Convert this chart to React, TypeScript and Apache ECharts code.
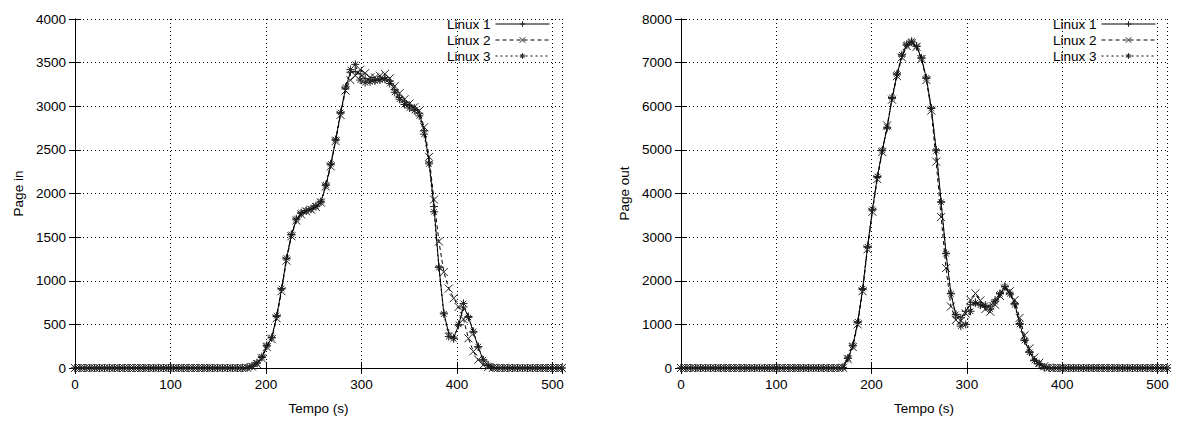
import React, { useEffect, useRef } from "react";
import * as echarts from "echarts";

// sampling step of the measurements (seconds); 100 samples from 0 to ~510 s
const SAMPLE_STEP = 5.15;
const SAMPLE_COUNT = 100;

const seriesNames = ["Linux 1", "Linux 2", "Linux 3"];

const z = (n: number) => Array(n).fill(0);

// Page in (left chart)
const pageIn1 = [
  ...z(35),
  5, 20, 55, 120, 250, 345, 590, 905, 1250, 1525,
  1700, 1770, 1800, 1820, 1850, 1900, 2090, 2330, 2610, 2920,
  3200, 3390, 3400, 3370, 3320, 3300, 3300, 3310, 3330, 3290,
  3190, 3100, 3050, 3010, 2980, 2920, 2720, 2360, 1850, 1160,
  630, 400, 345, 490, 700, 590, 410, 240, 90, 35, 8,
  ...z(14),
];
const pageIn2 = [
  ...z(35),
  3, 15, 45, 110, 240, 330, 570, 880, 1230, 1510,
  1690, 1760, 1795, 1815, 1845, 1895, 2080, 2310, 2600, 2900,
  3180, 3300, 3350, 3420, 3380, 3330, 3330, 3350, 3370, 3320,
  3230, 3150, 3080, 3030, 2990, 2950, 2760, 2420, 1930, 1450,
  1100, 910, 800, 700, 560, 340, 190, 95, 35, 10, 2,
  ...z(14),
];
const pageIn3 = [
  ...z(35),
  6, 25, 60, 130, 260, 350, 600, 910, 1260, 1530,
  1710, 1780, 1805, 1825, 1860, 1910, 2100, 2340, 2620, 2930,
  3220, 3420, 3480, 3300, 3270, 3280, 3290, 3300, 3310, 3260,
  3160, 3080, 3020, 2980, 2950, 2890, 2680, 2340, 1790, 1150,
  620, 360, 335, 500, 740, 580, 420, 245, 95, 30, 5,
  ...z(14),
];

// Page out (right chart)
const pageOut1 = [
  ...z(33),
  10, 220, 505, 1040, 1800, 2770, 3620, 4370, 4980, 5500,
  6180, 6720, 7150, 7400, 7470, 7370, 7100, 6640, 5960, 5000,
  3810, 2630, 1710, 1220, 1150, 1300, 1450, 1500, 1450, 1400,
  1420, 1560, 1710, 1860, 1720, 1480, 1020, 640, 370, 180,
  100, 20, 3,
  ...z(24),
];
const pageOut2 = [
  ...z(33),
  5, 200, 480, 1000, 1760, 2720, 3580, 4330, 4950, 5560,
  6150, 6690, 7120, 7380, 7450, 7360, 7080, 6600, 5900, 4730,
  3460, 2290, 1410, 1100, 1080, 1250, 1560, 1710, 1550, 1350,
  1290, 1450, 1650, 1820, 1760, 1560, 1150, 750, 450, 240,
  120, 40, 8,
  ...z(24),
];
const pageOut3 = [
  ...z(33),
  15, 230, 520, 1060, 1820, 2780, 3640, 4390, 4990, 5520,
  6200, 6740, 7180, 7420, 7490, 7380, 7110, 6650, 5950, 4980,
  3800, 2620, 1700, 1230, 960, 1000, 1300, 1500, 1440, 1440,
  1350, 1520, 1700, 1870, 1700, 1450, 1000, 630, 360, 170,
  90, 15, 2,
  ...z(24),
];

const times = Array.from({ length: SAMPLE_COUNT }, (_, i) => i * SAMPLE_STEP);

const FONT = "Liberation Sans";
const FS = 13.5;
const SYMBOLS = [
  "path://M0,5L10,5M5,0L5,10",
  "path://M0,0L10,10M10,0L0,10",
  "path://M0,5L10,5M5,0L5,10M1.5,1.5L8.5,8.5M8.5,1.5L1.5,8.5",
];
const DASHES: any[] = ["solid", [4, 3], [2, 3]];

const gridLine = { show: true, lineStyle: { color: "#000", type: [1, 3], width: 1 } };
const axisLine = { show: true, lineStyle: { color: "#000", width: 1 } };
const tick = { show: true, inside: true, length: 6, lineStyle: { color: "#000", width: 1 } };
const label = { color: "#000", fontSize: FS, fontFamily: FONT };
const plain = (v: number) => String(v);

function makeAxes(gridIndex: number, yMax: number, yInterval: number, yName: string) {
  const xAxes = [
    {
      type: "value", gridIndex, min: 0, max: 510, interval: 100, position: "bottom",
      axisLine, axisTick: tick, splitLine: gridLine,
      axisLabel: { ...label, margin: 9, showMaxLabel: false, formatter: plain },
      name: "Tempo (s)", nameLocation: "middle", nameGap: 33,
      nameTextStyle: { ...label },
    },
    {
      type: "value", gridIndex, min: 0, max: 510, interval: 100, position: "top",
      axisLine, axisTick: tick, splitLine: { show: false }, axisLabel: { show: false },
    },
  ];
  const yAxes = [
    {
      type: "value", gridIndex, min: 0, max: yMax, interval: yInterval, position: "left",
      axisLine, axisTick: tick, splitLine: gridLine,
      axisLabel: { ...label, margin: 9, formatter: plain },
      name: yName, nameLocation: "middle", nameGap: 50, nameRotate: 90,
      nameTextStyle: { ...label },
    },
    {
      type: "value", gridIndex, min: 0, max: yMax, interval: yInterval, position: "right",
      axisLine, axisTick: tick, splitLine: { show: false }, axisLabel: { show: false },
    },
  ];
  return { xAxes, yAxes };
}

function makeSeries(data: number[][], axisIndex: number) {
  return data.map((vals, k) => ({
    type: "line",
    name: seriesNames[k],
    xAxisIndex: axisIndex,
    yAxisIndex: axisIndex,
    data: times.map((t, i) => [t, vals[i]]),
    symbol: SYMBOLS[k],
    symbolSize: 8,
    showAllSymbol: true,
    color: "#000",
    lineStyle: { color: "#000", width: 1, type: DASHES[k] },
    itemStyle: { color: "#000", borderColor: "#222", borderWidth: 1 },
    emphasis: { disabled: true },
    z: 3 - k,
  }));
}

export default function App() {
  const ref = useRef<HTMLDivElement>(null);
  useEffect(() => {
    if (!ref.current) return;
    const chart = echarts.init(ref.current, null, { renderer: "svg" });
    const left = makeAxes(0, 4000, 500, "Page in");
    const right = makeAxes(1, 8000, 1000, "Page out");
    const legendBase = {
      orient: "vertical", align: "right", itemWidth: 54, itemHeight: 7, itemGap: 2,
      padding: 0, selectedMode: false, data: seriesNames,
      lineStyle: { width: 1 },
      itemStyle: { borderWidth: 1 },
      textStyle: { ...label, lineHeight: 12 },
    };
    chart.setOption({
      animation: false,
      backgroundColor: "#fff",
      grid: [
        { left: 75, top: 19, width: 487, height: 349 },
        { left: 681, top: 19, width: 486, height: 349 },
      ],
      legend: [
        { ...legendBase, right: 633, top: 17 },
        { ...legendBase, right: 27, top: 17 },
      ],
      xAxis: [...left.xAxes, ...right.xAxes],
      yAxis: [...left.yAxes, ...right.yAxes],
      series: [
        ...makeSeries([pageIn1, pageIn2, pageIn3], 0),
        ...makeSeries([pageOut1, pageOut2, pageOut3], 2),
      ],
    });
    return () => chart.dispose();
  }, []);
  return (
    <div
      ref={ref}
      style={{ position: "absolute", left: 0, top: 0, width: 1183, height: 423 }}
    />
  );
}
